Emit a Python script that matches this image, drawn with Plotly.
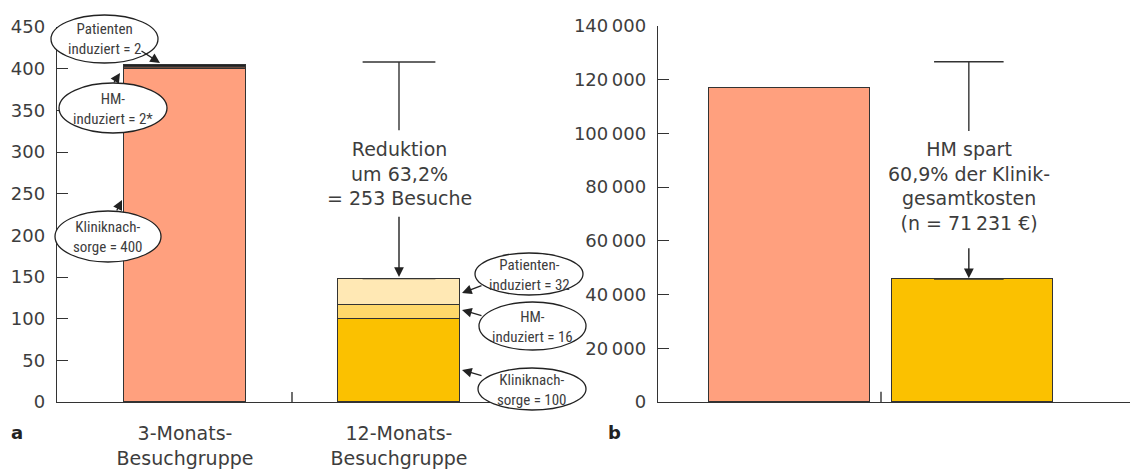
import plotly.graph_objects as go

# ---------------- data ----------------
categories = ["3-Monats-<br>Besuchgruppe", "12-Monats-<br>Besuchgruppe"]
visits_klinik = [400, 100]      # Kliniknachsorge
visits_hm = [2, 16]             # HM-induziert
visits_patient = [2, 32]        # Patienten-induziert
cost_values = [116964, 45733]   # Klinik-Gesamtkosten (EUR)
visit_ticks = [0, 50, 100, 150, 200, 250, 300, 350, 400, 450]
cost_ticks = [0, 20000, 40000, 60000, 80000, 100000, 120000, 140000]
cost_ticktext = ["0", "20\u2009000", "40\u2009000", "60\u2009000", "80\u2009000",
                 "100\u2009000", "120\u2009000", "140\u2009000"]

W, H = 1130, 469
def px(x):
    return x / W
def py(y):
    return 1 - y / H

INK = "#333333"
TXT = "#3d3d3d"
FONT = "DejaVu Sans"
NARROW = "Liberation Sans Narrow, Arial Narrow, Roboto Condensed, Liberation Sans, sans-serif"

salmon = "#FFA07E"
yellow = "#FBC100"
yellow_mid = "#FFD86A"
yellow_light = "#FFE8B4"

xs = list(range(len(categories)))
totals = [a + b + c for a, b, c in zip(visits_klinik, visits_hm, visits_patient)]

fig = go.Figure()
line = dict(color=INK, width=1.4)
fig.add_trace(go.Bar(x=xs, y=visits_klinik, width=0.57, marker=dict(color=[salmon, yellow], line=line),
                     xaxis="x", yaxis="y", name="Kliniknachsorge"))
fig.add_trace(go.Bar(x=xs, y=visits_hm, width=0.57, marker=dict(color=["#6b4a3c", yellow_mid], line=line),
                     xaxis="x", yaxis="y", name="HM-induziert"))
fig.add_trace(go.Bar(x=xs, y=visits_patient, width=0.57, marker=dict(color=["#222222", yellow_light], line=line),
                     xaxis="x", yaxis="y", name="Patienten-induziert"))
fig.add_trace(go.Bar(x=xs, y=cost_values, width=0.88, marker=dict(color=[salmon, yellow], line=line),
                     xaxis="x2", yaxis="y2", name="Kosten"))

ydom1 = [py(402), py(27)]
ydom2 = [py(402), py(26)]

fig.update_layout(
    width=W, height=H, autosize=False,
    margin=dict(l=0, r=0, t=0, b=0, autoexpand=False),
    paper_bgcolor="white", plot_bgcolor="white",
    barmode="stack", bargap=0, showlegend=False,
    font=dict(family=FONT, color=TXT),
    xaxis=dict(domain=[px(57), px(545)], range=[(57 - 185) / 214, (545 - 185) / 214],
               showline=True, linecolor=INK, linewidth=1.4, showgrid=False, zeroline=False,
               tickvals=xs, ticktext=categories, ticks="", tickfont=dict(size=19, family=FONT, color=TXT),
               ticklabelstandoff=14, fixedrange=True, automargin=False),
    yaxis=dict(domain=ydom1, range=[0, 450], showline=True, linecolor=INK, linewidth=1.4,
               showgrid=False, zeroline=False, tickvals=visit_ticks, ticks="inside", ticklen=11,
               tickcolor=INK, tickwidth=1.4, tickfont=dict(size=18, family=FONT, color=TXT),
               ticklabelstandoff=7, automargin=False),
    xaxis2=dict(domain=[px(658), 1.0], range=[(658 - 789.5) / 183, (1130 - 789.5) / 183],
                showline=True, linecolor=INK, linewidth=1.4, showgrid=False, zeroline=False,
                showticklabels=False, ticks="", anchor="y2", automargin=False),
    yaxis2=dict(domain=ydom2, range=[0, 140000], showline=True, linecolor=INK, linewidth=1.4,
                showgrid=False, zeroline=False, tickvals=cost_ticks, ticktext=cost_ticktext,
                ticks="inside", ticklen=11, tickcolor=INK, tickwidth=1.4,
                tickfont=dict(size=18, family=FONT, color=TXT), anchor="x2", ticklabelstandoff=7,
                automargin=False),
)

shapes = []
ann = []

# separator ticks between categories
for xr, yr in (("x", "y domain"), ("x2", "y2 domain")):
    shapes.append(dict(type="line", xref=xr, yref=yr, x0=0.5, x1=0.5, y0=0, y1=0.027,
                       line=dict(color=INK, width=1.4)))

# --- panel a: reduction bracket ---
hw = 0.17
shapes.append(dict(type="line", xref="x", yref="y", x0=1 - hw, x1=1 + hw, y0=totals[0] + 4, y1=totals[0] + 4,
                   line=dict(color=INK, width=1.4)))
shapes.append(dict(type="line", xref="x", yref="y", x0=1, x1=1, y0=totals[0] + 4, y1=326,
                   line=dict(color=INK, width=1.4)))
shapes.append(dict(type="line", xref="x", yref="y", x0=1 - hw, x1=1 + hw, y0=totals[1], y1=totals[1],
                   line=dict(color=INK, width=1.4)))
ann.append(dict(x=1, y=totals[1] + 2, xref="x", yref="y", ax=1, ay=224, axref="x", ayref="y",
                showarrow=True, arrowhead=2, arrowsize=1.4, arrowwidth=1.4, arrowcolor="#222", text=""))
ann.append(dict(x=1, y=py(173), xref="x", yref="paper", showarrow=False, xanchor="center", yanchor="middle",
                text="Reduktion<br>um 63,2%<br>= 253 Besuche", font=dict(size=19, family=FONT, color=TXT),
                align="center"))

# --- panel b: savings bracket ---
cx = 0.98
hw2 = 0.19
shapes.append(dict(type="line", xref="x2", yref="y2", x0=cx - hw2, x1=cx + hw2, y0=126700, y1=126700,
                   line=dict(color=INK, width=1.4)))
shapes.append(dict(type="line", xref="x2", yref="y2", x0=cx, x1=cx, y0=126700, y1=100900,
                   line=dict(color=INK, width=1.4)))
shapes.append(dict(type="line", xref="x2", yref="y2", x0=cx - hw2, x1=cx + hw2, y0=cost_values[1], y1=cost_values[1],
                   line=dict(color=INK, width=1.4)))
ann.append(dict(x=cx, y=cost_values[1] + 300, xref="x2", yref="y2", ax=cx, ay=57800, axref="x2", ayref="y2",
                showarrow=True, arrowhead=2, arrowsize=1.4, arrowwidth=1.4, arrowcolor="#222", text=""))
ann.append(dict(x=cx, y=py(186), xref="x2", yref="paper", showarrow=False, xanchor="center", yanchor="middle",
                text="HM spart<br>60,9% der Klinik-<br>gesamtkosten<br>(n = 71\u2009231 €)",
                font=dict(size=19, family=FONT, color=TXT), align="center"))

# --- callout ellipses (pixel boxes) ---
ellipses = [
    ((51, 15, 158, 63), "Patienten<br>induziert = 2"),
    ((59, 83, 167, 133), "HM-<br>induziert = 2*"),
    ((55, 211, 161, 262), "Kliniknach-<br>sorge = 400"),
    ((475, 253, 583, 295), "Patienten-<br>induziert = 32"),
    ((479, 302, 586, 350), "HM-<br>induziert = 16"),
    ((478, 368, 586, 410), "Kliniknach-<br>sorge = 100"),
]
# arrows: (tip_x, tip_y, tail_x, tail_y) in pixels
arrows = [
    (160, 63, 140, 50),
    (120, 73, 113, 84),
    (122, 200, 116, 212),
    (462, 293, 483, 285),
    (462, 310, 483, 316),
    (462, 370, 483, 376),
]
for (x0, y0, x1, y1), t in ellipses:
    shapes.append(dict(type="circle", xref="paper", yref="paper", x0=px(x0), x1=px(x1), y0=py(y1), y1=py(y0),
                       fillcolor="white", line=dict(color="#222", width=1.3), layer="above"))
    ann.append(dict(x=px((x0 + x1) / 2), y=py((y0 + y1) / 2 + 0.5), xref="paper", yref="paper", showarrow=False,
                    text=t, xanchor="center", yanchor="middle", align="center",
                    font=dict(size=15, family=NARROW, color=TXT)))
for tx, ty, sx, sy in arrows:
    ann.append(dict(x=px(tx), y=py(ty), xref="paper", yref="paper", ax=sx - tx, ay=sy - ty,
                    showarrow=True, arrowhead=2, arrowsize=1.5, arrowwidth=1.3, arrowcolor="#222", text=""))

# panel letters
ann.append(dict(x=px(17), y=py(432), xref="paper", yref="paper", showarrow=False, text="<b>a</b>",
                xanchor="center", yanchor="middle", font=dict(size=18, family=FONT, color="#222")))
ann.append(dict(x=px(614), y=py(432), xref="paper", yref="paper", showarrow=False, text="<b>b</b>",
                xanchor="center", yanchor="middle", font=dict(size=18, family=FONT, color="#222")))

fig.update_layout(shapes=shapes, annotations=ann)
fig.write_html("out.html", config={"displayModeBar": False},
               post_script="document.body.style.margin='0';document.body.style.padding='0';")
